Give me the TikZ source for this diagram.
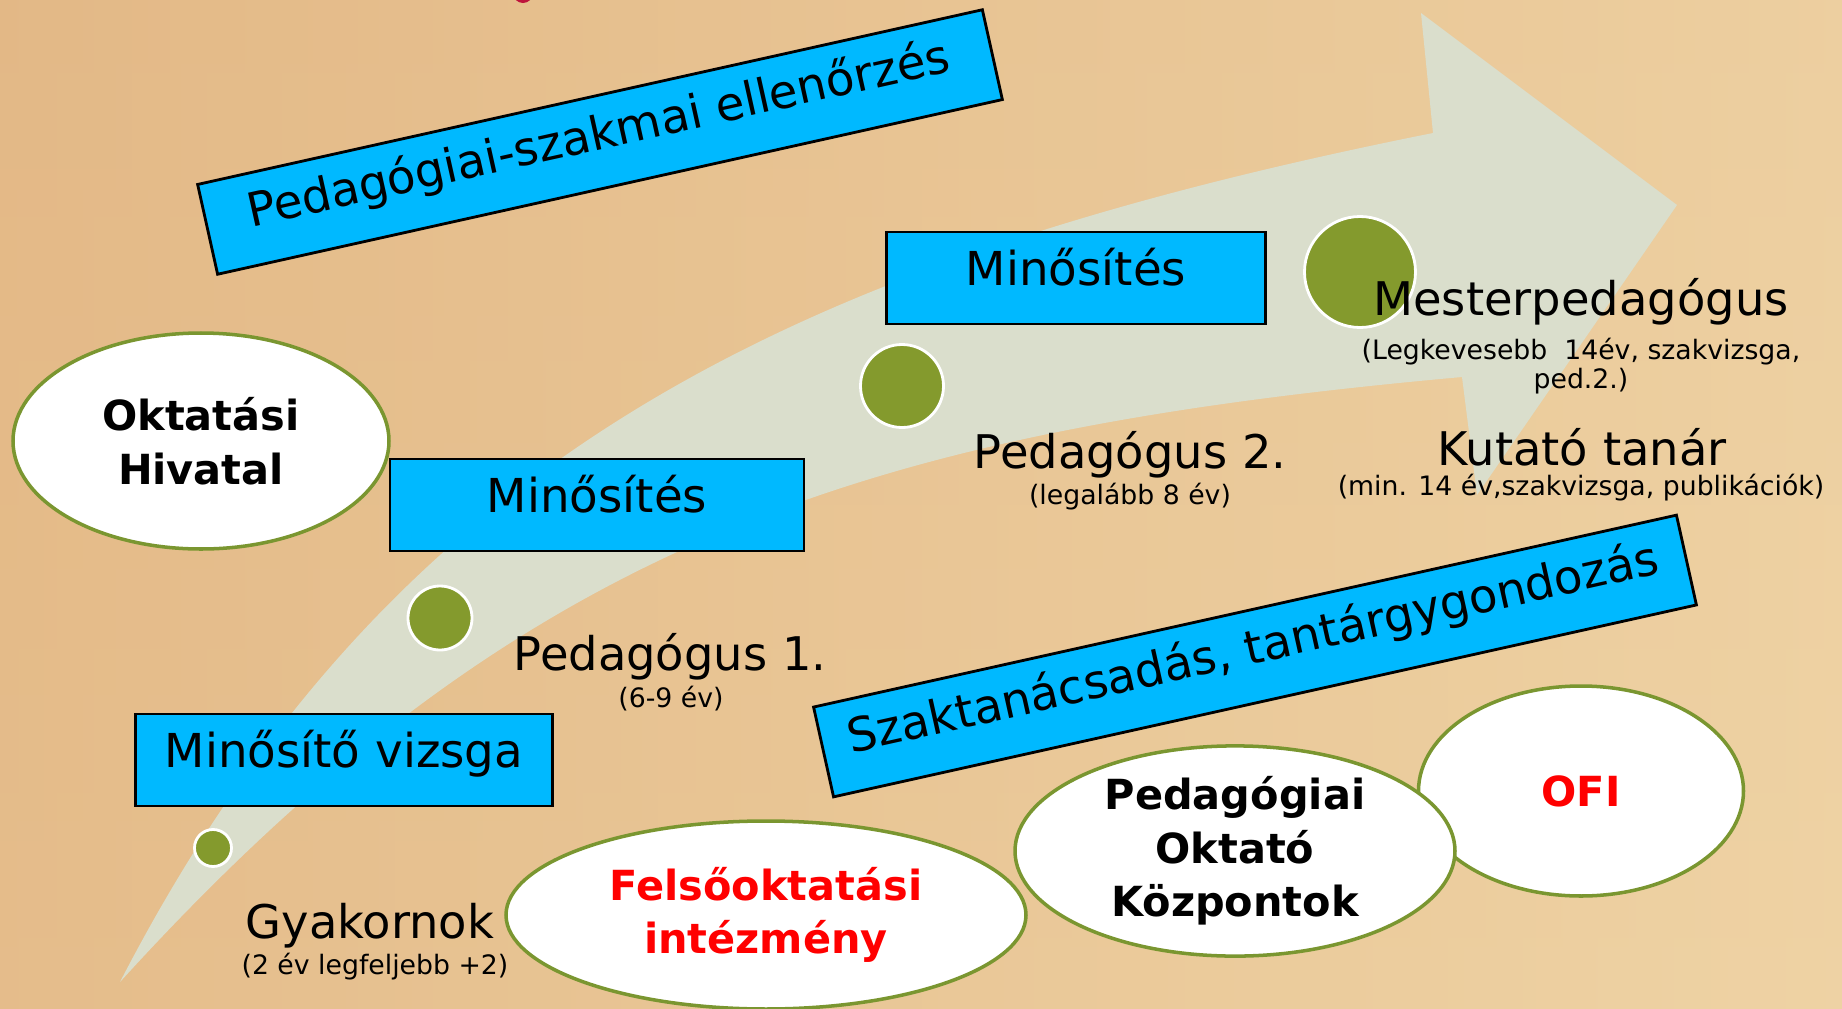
\documentclass[tikz,border=0pt]{standalone}
\usepackage{fontspec}
\setmainfont{DejaVu Sans}
\usetikzlibrary{shapes.geometric}

\definecolor{woodlight}{RGB}{237,207,160}
\definecolor{woodmid}{RGB}{226,180,128}
\definecolor{woodlow}{RGB}{240,214,168}
\definecolor{woodleft}{RGB}{216,158,104}
\definecolor{arrowgray}{RGB}{218,222,204}
\definecolor{boxblue}{RGB}{0,185,255}
\definecolor{dotgreen}{RGB}{132,154,45}
\definecolor{rimgreen}{RGB}{122,150,48}
\definecolor{titlered}{RGB}{190,20,60}

\tikzset{
  bluebox/.style={draw=black, line width=0.8pt, fill=boxblue, minimum height=9.2mm, inner sep=0pt,
    text height=0.9em, text depth=0.48em, font=\fontsize{13.3}{16}\selectfont},
  bubble/.style={ellipse, draw=rimgreen, line width=1pt, fill=white, align=center, inner sep=0pt,
    font=\fontsize{11.8}{15.2}\selectfont\bfseries},
  dot/.style={circle, fill=dotgreen, draw=white, line width=0.8pt, inner sep=0pt},
  stage/.style={anchor=base, inner sep=0pt, font=\fontsize{13.2}{15}\selectfont},
  note/.style={anchor=base, inner sep=0pt, font=\fontsize{7.6}{8.2}\selectfont}
}

\begin{document}
\begin{tikzpicture}[x=0.1mm, y=-0.1mm]

\useasboundingbox (0,0) rectangle (1842,1009);
\clip (0,0) rectangle (1842,1009);
\shade[top color=woodlight, middle color=woodmid, bottom color=woodlow] (0,0) rectangle (1842,1009);
\shade[left color=woodleft, right color=woodlight, fill opacity=0.45] (0,0) rectangle (1842,1009);
\fill[titlered] (523,-7) circle [radius=10];

\fill[arrowgray] (120,982) .. controls (390,460) and (783,263) .. (1433,133) -- (1421,13) -- (1677,205)
  -- (1477,495) -- (1462,377) .. controls (862,431) and (520,542) .. cycle;

\node[bluebox, minimum width=80.4mm, rotate=12.55] (ellenorzes) at (600,142) {Pedagógiai-szakmai ellenőrzés};
\node[bluebox, minimum width=37.9mm] (minosites2) at (1076,278) {Minősítés};
\node[bluebox, minimum width=41.4mm] (minosites1) at (597,505) {Minősítés};
\node[bluebox, minimum width=41.7mm] (vizsga) at (344,760) {Minősítő vizsga};
\node[bluebox, minimum width=88.4mm, rotate=12.54] (szaktan) at (1255,656) {Szaktanácsadás, tantárgygondozás};

\node[bubble, minimum width=37.6mm, minimum height=21.6mm] (ohivatal) at (201,441) {Oktatási\\Hivatal};
\node[bubble, text=red, minimum width=52mm, minimum height=18.8mm] (felsoo) at (766,915) {Felsőoktatási\\intézmény};
\node[bubble, text=red, minimum width=32.5mm, minimum height=21mm] (ofi) at (1581,791) {OFI};
\node[bubble, minimum width=44mm, minimum height=20.8mm] (pok) at (1235,851) {Pedagógiai\\Oktató\\Központok};

\node[dot, minimum size=3.7mm] (dot0) at (213,848) {};
\node[dot, minimum size=6.4mm] (dot1) at (440,618) {};
\node[dot, minimum size=8.3mm] (dot2) at (902,386) {};
\node[dot, minimum size=11.1mm] (dot3) at (1360,272) {};

\node[stage] (gyak) at (370,938) {Gyakornok};
\node[note] (gyaknote) at (375,974) {(2 év legfeljebb +2)};
\node[stage] (ped1) at (670,670) {Pedagógus 1.};
\node[note] (ped1note) at (671,707) {(6-9 év)};
\node[stage] (ped2) at (1130,468) {Pedagógus 2.};
\node[note] (ped2note) at (1130,504) {(legalább 8 év)};
\node[stage] (mester) at (1581,315) {Mesterpedagógus};
\node[note] (mesternote) at (1581,359) {(Legkevesebb\ \ 14év, szakvizsga,};
\node[note] (mesternoteb) at (1581,388) {ped.2.)};
\node[stage] (kutato) at (1582,465) {Kutató tanár};
\node[note] (kutatonote) at (1581,495) {(min. 14 év,szakvizsga, publikációk)};

\end{tikzpicture}
\end{document}
